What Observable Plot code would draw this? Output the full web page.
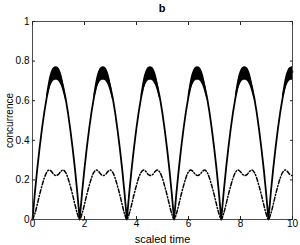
<!DOCTYPE html>
<html><head><meta charset="utf-8">
<script src="https://cdn.jsdelivr.net/npm/d3@7"></script>
<script src="https://cdn.jsdelivr.net/npm/@observablehq/plot@0.6"></script>
<style>
body{margin:0;background:#fff;font-family:"Liberation Sans",Arial,sans-serif;}
#title{height:16px;line-height:17px;font-size:11px;font-weight:bold;text-align:center;padding-left:32px;padding-right:8px;width:260px;}
</style></head><body>
<div id="title">b</div>
<div id="chart"></div>
<script>
const time = [0,0.091,0.182,0.272,0.363,0.454,0.545,0.635,0.726,0.817,0.908,0.998,1.089,1.180,1.271,1.361,1.452,1.543,1.634,1.724,
1.815,1.906,1.997,2.087,2.178,2.269,2.360,2.450,2.541,2.632,2.723,2.813,2.904,2.995,3.086,3.176,3.267,3.358,3.449,3.539,
3.630,3.721,3.812,3.902,3.993,4.084,4.175,4.265,4.356,4.447,4.538,4.628,4.719,4.810,4.901,4.991,5.082,5.173,5.264,5.354,
5.445,5.536,5.627,5.717,5.808,5.899,5.990,6.080,6.171,6.262,6.353,6.443,6.534,6.625,6.716,6.806,6.897,6.988,7.079,7.169,
7.260,7.351,7.442,7.532,7.623,7.714,7.805,7.895,7.986,8.077,8.168,8.258,8.349,8.440,8.531,8.621,8.712,8.803,8.894,8.984,
9.075,9.166,9.257,9.347,9.438,9.529,9.620,9.710,9.801,9.892,9.983,10.0];
const concSolid = [0,0.135,0.254,0.36,0.457,0.542,0.614,0.671,0.713,0.739,0.747,0.739,0.713,0.671,0.614,0.542,0.457,0.36,0.254,0.135,
0,0.135,0.254,0.36,0.457,0.542,0.614,0.671,0.713,0.739,0.747,0.739,0.713,0.671,0.614,0.542,0.457,0.36,0.254,0.135,
0,0.135,0.254,0.36,0.457,0.542,0.614,0.671,0.713,0.739,0.747,0.739,0.713,0.671,0.614,0.542,0.457,0.36,0.254,0.135,
0,0.135,0.254,0.36,0.457,0.542,0.614,0.671,0.713,0.739,0.747,0.739,0.713,0.671,0.614,0.542,0.457,0.36,0.254,0.135,
0,0.135,0.254,0.36,0.457,0.542,0.614,0.671,0.713,0.739,0.747,0.739,0.713,0.671,0.614,0.542,0.457,0.36,0.254,0.135,
0,0.135,0.254,0.36,0.457,0.542,0.614,0.671,0.713,0.739,0.747,0.746];
const bandLow = [null,null,null,null,null,null,0.60,0.645,0.68,0.70,0.703,0.70,0.68,0.645,0.60,null,null,null,null,null,
null,null,null,null,null,null,0.60,0.645,0.68,0.70,0.703,0.70,0.68,0.645,0.60,null,null,null,null,null,
null,null,null,null,null,null,0.60,0.645,0.68,0.70,0.703,0.70,0.68,0.645,0.60,null,null,null,null,null,
null,null,null,null,null,null,0.60,0.645,0.68,0.70,0.703,0.70,0.68,0.645,0.60,null,null,null,null,null,
null,null,null,null,null,null,0.60,0.645,0.68,0.70,0.703,0.70,0.68,0.645,0.60,null,null,null,null,null,
null,null,null,null,null,null,0.60,0.645,0.68,0.70,0.703,0.703];
const bandHigh = [null,null,null,null,null,null,0.63,0.70,0.745,0.766,0.772,0.766,0.745,0.70,0.63,null,null,null,null,null,
null,null,null,null,null,null,0.63,0.70,0.745,0.766,0.772,0.766,0.745,0.70,0.63,null,null,null,null,null,
null,null,null,null,null,null,0.63,0.70,0.745,0.766,0.772,0.766,0.745,0.70,0.63,null,null,null,null,null,
null,null,null,null,null,null,0.63,0.70,0.745,0.766,0.772,0.766,0.745,0.70,0.63,null,null,null,null,null,
null,null,null,null,null,null,0.63,0.70,0.745,0.766,0.772,0.766,0.745,0.70,0.63,null,null,null,null,null,
null,null,null,null,null,null,0.63,0.70,0.745,0.766,0.772,0.772];
const concDashed = [0,0.03,0.075,0.125,0.17,0.21,0.238,0.25,0.243,0.228,0.222,0.228,0.243,0.25,0.238,0.21,0.17,0.125,0.075,0.03,
0,0.03,0.075,0.125,0.17,0.21,0.238,0.25,0.243,0.228,0.222,0.228,0.243,0.25,0.238,0.21,0.17,0.125,0.075,0.03,
0,0.03,0.075,0.125,0.17,0.21,0.238,0.25,0.243,0.228,0.222,0.228,0.243,0.25,0.238,0.21,0.17,0.125,0.075,0.03,
0,0.03,0.075,0.125,0.17,0.21,0.238,0.25,0.243,0.228,0.222,0.228,0.243,0.25,0.238,0.21,0.17,0.125,0.075,0.03,
0,0.03,0.075,0.125,0.17,0.21,0.238,0.25,0.243,0.228,0.222,0.228,0.243,0.25,0.238,0.21,0.17,0.125,0.075,0.03,
0,0.03,0.075,0.125,0.17,0.21,0.238,0.25,0.243,0.228,0.222,0.223];
const xTicks = [0,2,4,6,8,10];
const yTicks = [0,0.2,0.4,0.6,0.8,1];
const xLabel = "scaled time";
const yLabel = "concurrence";

const rows = time.map((t,i)=>({t, s:concSolid[i], d:concDashed[i], lo:bandLow[i]==null?NaN:bandLow[i], hi:bandHigh[i]==null?NaN:bandHigh[i]}));

const chart = Plot.plot({
  width:300, height:229,
  marginTop:5, marginBottom:26, marginLeft:32, marginRight:8,
  style:{fontFamily:"Liberation Sans, Arial, sans-serif", fontSize:"10px", color:"#000", background:"#fff"},
  x:{domain:[0,10]},
  y:{domain:[0,1]},
  marks:[
    Plot.areaY(rows,{x:"t", y1:"lo", y2:"hi", fill:"#000", curve:"catmull-rom"}),
    Plot.lineY(rows,{x:"t", y:"s", stroke:"#000", strokeWidth:1.8, curve:"linear"}),
    Plot.lineY(rows,{x:"t", y:"d", stroke:"#000", strokeWidth:1.5, strokeDasharray:"4,2,1,2", curve:"catmull-rom"}),
    Plot.frame({stroke:"#222", strokeWidth:0.8}),
    Plot.axisX({ticks:xTicks, tickSize:-3, tickPadding:3, label:null, stroke:"#222"}),
    Plot.axisX({ticks:xTicks, tickSize:0, tickFormat:()=>"", label:xLabel, labelAnchor:"center", labelArrow:"none", labelOffset:23, fontSize:11, stroke:"none"}),
    Plot.axisX({anchor:"top", ticks:xTicks, tickSize:-3, tickFormat:()=>"", label:null, stroke:"#222"}),
    Plot.axisY({ticks:yTicks, tickSize:-3, tickPadding:6, tickFormat:d=>d===0?"0":d===1?"1":String(d), label:yLabel, labelAnchor:"center", labelArrow:"none", labelOffset:27, stroke:"#222"}),
    Plot.axisY({anchor:"right", ticks:yTicks, tickSize:-3, tickFormat:()=>"", label:null, stroke:"#222"})
  ]
});
document.getElementById("chart").appendChild(chart);
</script>
</body></html>
